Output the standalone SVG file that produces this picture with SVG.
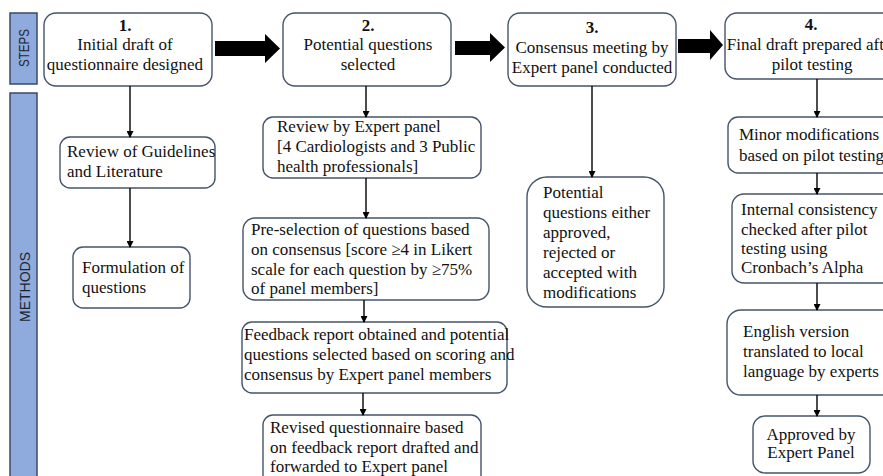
<svg xmlns="http://www.w3.org/2000/svg" width="883" height="476" viewBox="0 0 883 476">
<defs>
<style>
.bar{fill:#8faadc;stroke:#3a4a66;stroke-width:1.5}
.lab{font-family:"Liberation Sans",Arial,sans-serif;font-size:15px;fill:#1c2430}
.box{fill:#fff;stroke:#44546a;stroke-width:1.4}
.t{font-family:"Liberation Serif","Times New Roman",serif;font-size:17px;fill:#111}
.c{text-anchor:middle}
.b{font-weight:bold}
.con line{stroke:#000;stroke-width:1.4;marker-end:url(#ah)}
.big{fill:#000}
</style>
<marker id="ah" markerUnits="userSpaceOnUse" markerWidth="7" markerHeight="7" refX="6" refY="3.5" orient="auto">
<path d="M0,0 L7,3.5 L0,7 z" fill="#000"/>
</marker>
</defs>
<rect width="883" height="476" fill="#fff"/>

<g id="lane-steps">
<rect class="bar" x="10" y="13" width="27" height="71"/>
<text class="lab" transform="translate(29,48) rotate(-90)" text-anchor="middle" textLength="38" lengthAdjust="spacingAndGlyphs">STEPS</text>
</g>
<g id="lane-methods">
<rect class="bar" x="10" y="93" width="27" height="390"/>
<text class="lab" transform="translate(30,287) rotate(-90)" text-anchor="middle" textLength="70" lengthAdjust="spacingAndGlyphs">METHODS</text>
</g>

<g id="big-arrows">
<polygon class="big" points="215,41 265,41 265,34 280,48.5 265,63 265,56 215,56"/>
<polygon class="big" points="455,41 490,41 490,33 505,47.5 490,62 490,55 455,55"/>
<polygon class="big" points="678,39 710,39 710,30 723,45 710,60 710,53 678,53"/>
</g>

<g id="step1">
<rect class="box" x="44" y="13" width="168" height="73" rx="12"/>
<text class="t c b" x="125" y="31">1.</text>
<text class="t c" x="125" y="50">Initial draft of</text>
<text class="t c" x="125" y="70">questionnaire designed</text>
</g>
<g id="step2">
<rect class="box" x="283" y="13" width="168" height="73" rx="12"/>
<text class="t c b" x="368" y="31">2.</text>
<text class="t c" x="368" y="50">Potential questions</text>
<text class="t c" x="368" y="70">selected</text>
</g>
<g id="step3">
<rect class="box" x="508" y="13" width="168" height="73" rx="12"/>
<text class="t c b" x="592" y="33">3.</text>
<text class="t c" x="592" y="53">Consensus meeting by</text>
<text class="t c" x="592" y="73">Expert panel conducted</text>
</g>
<g id="step4">
<rect class="box" x="725" y="13" width="175" height="66" rx="12"/>
<text class="t c b" x="811" y="30">4.</text>
<text class="t c" x="812" y="50">Final draft prepared after</text>
<text class="t c" x="812" y="70">pilot testing</text>
</g>

<g id="m1a">
<rect class="box" x="60" y="137" width="155" height="51" rx="10"/>
<text class="t" x="67" y="157">Review of Guidelines</text>
<text class="t" x="67" y="177">and Literature</text>
</g>
<g id="m1b">
<rect class="box" x="73" y="247" width="117" height="61" rx="10"/>
<text class="t" x="82" y="273">Formulation of</text>
<text class="t" x="82" y="293">questions</text>
</g>

<g id="m2a">
<rect class="box" x="263" y="117" width="218" height="61" rx="10"/>
<text class="t" x="277" y="132">Review by Expert panel</text>
<text class="t" x="277" y="152">[4 Cardiologists and 3 Public</text>
<text class="t" x="277" y="172">health professionals]</text>
</g>
<g id="m2b">
<rect class="box" x="243" y="218" width="246" height="82" rx="12"/>
<text class="t" x="251" y="235">Pre-selection of questions based</text>
<text class="t" x="251" y="255">on consensus [score ≥4 in Likert</text>
<text class="t" x="251" y="275">scale for each question by ≥75%</text>
<text class="t" x="251" y="294">of panel members]</text>
</g>
<g id="m2c">
<rect class="box" x="242" y="322" width="265" height="71" rx="10"/>
<text class="t" x="244" y="340">Feedback report obtained and potential</text>
<text class="t" x="244" y="360">questions selected based on scoring and</text>
<text class="t" x="244" y="380">consensus by Expert panel members</text>
</g>
<g id="m2d">
<rect class="box" x="263" y="415" width="218" height="70" rx="10"/>
<text class="t" x="270" y="433">Revised questionnaire based</text>
<text class="t" x="270" y="453">on feedback report drafted and</text>
<text class="t" x="270" y="472">forwarded to Expert panel</text>
</g>

<g id="m3">
<rect class="box" x="527" y="177" width="137" height="130" rx="20"/>
<text class="t" x="543" y="198">Potential</text>
<text class="t" x="543" y="218">questions either</text>
<text class="t" x="543" y="238">approved,</text>
<text class="t" x="543" y="258">rejected or</text>
<text class="t" x="543" y="278">accepted with</text>
<text class="t" x="543" y="298">modifications</text>
</g>

<g id="m4a">
<rect class="box" x="728" y="117" width="170" height="56" rx="10"/>
<text class="t" x="739" y="140">Minor modifications</text>
<text class="t" x="739" y="161">based on pilot testing</text>
</g>
<g id="m4b">
<rect class="box" x="732" y="194" width="166" height="89" rx="12"/>
<text class="t" x="741" y="215">Internal consistency</text>
<text class="t" x="741" y="235">checked after pilot</text>
<text class="t" x="741" y="254">testing using</text>
<text class="t" x="741" y="273">Cronbach’s Alpha</text>
</g>
<g id="m4c">
<rect class="box" x="727" y="310" width="171" height="85" rx="14"/>
<text class="t" x="743" y="337">English version</text>
<text class="t" x="743" y="357">translated to local</text>
<text class="t" x="743" y="377">language by experts</text>
</g>
<g id="m4d">
<rect class="box" x="753" y="416" width="117" height="57" rx="12"/>
<text class="t c" x="811" y="440">Approved by</text>
<text class="t c" x="811" y="458">Expert Panel</text>
</g>

<g id="connectors" class="con">
<line x1="130" y1="86" x2="130" y2="137"/>
<line x1="130" y1="188" x2="130" y2="247"/>
<line x1="366" y1="86" x2="366" y2="117"/>
<line x1="366" y1="178" x2="366" y2="218"/>
<line x1="364" y1="300" x2="364" y2="322"/>
<line x1="363" y1="393" x2="363" y2="415"/>
<line x1="592" y1="86" x2="592" y2="177"/>
<line x1="817" y1="79" x2="817" y2="117"/>
<line x1="817" y1="173" x2="817" y2="194"/>
<line x1="817" y1="283" x2="817" y2="310"/>
<line x1="817" y1="395" x2="817" y2="416"/>
</g>
</svg>
